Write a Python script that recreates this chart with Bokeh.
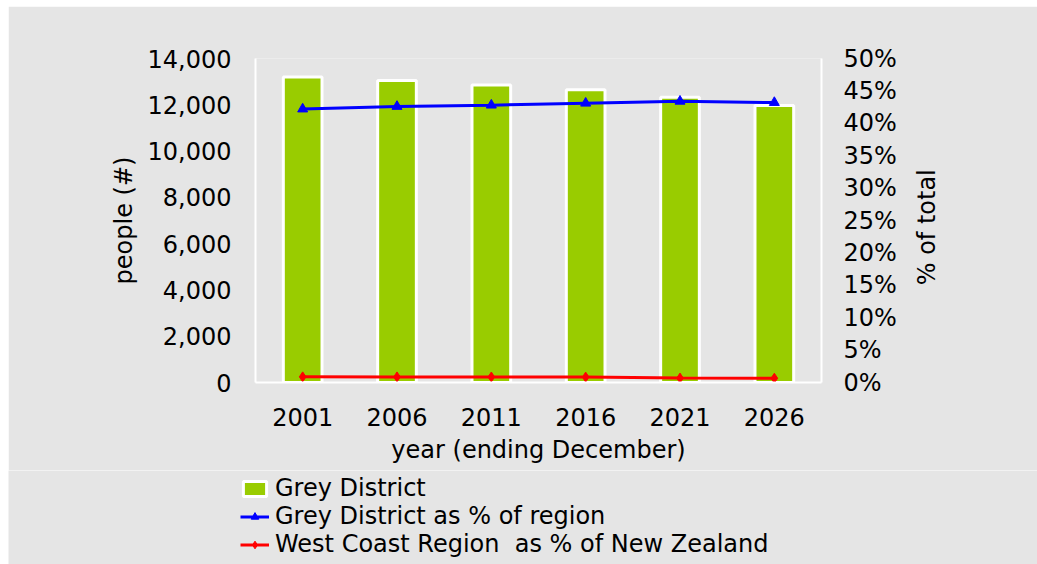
import math
from bokeh.plotting import figure
from bokeh.models import (FactorRange, Range1d, LinearAxis, SingleIntervalTicker, FixedTicker,
                          NumeralTickFormatter, PrintfTickFormatter, Legend, LegendItem,
                          ColumnDataSource)
from bokeh.layouts import column
from bokeh.embed import file_html
from bokeh.resources import INLINE

years = ["2001", "2006", "2011", "2016", "2021", "2026"]
grey_people = [13200, 13050, 12850, 12650, 12330, 11970]
grey_pct_region = [42.2, 42.6, 42.8, 43.1, 43.4, 43.2]
westcoast_pct_nz = [0.87, 0.86, 0.85, 0.83, 0.68, 0.66]

BG = "#E5E5E5"
FONT = "DejaVu Sans"
FS = "24px"

src = ColumnDataSource(dict(x=years, people=grey_people, pr=grey_pct_region, pn=westcoast_pct_nz))

p = figure(width=1029, height=464, x_range=FactorRange(*years), y_range=Range1d(0, 14000),
           output_backend="svg", toolbar_location=None,
           min_border_left=247, min_border_top=52, min_border_right=216, min_border_bottom=88)
p.margin = (6, 0, 0, 8)
p.extra_y_ranges = {"pct": Range1d(0, 50)}
p.background_fill_color = BG
p.border_fill_color = BG
p.outline_line_color = None
p.xgrid.visible = False
p.ygrid.visible = False


def draw(fig, pct_range=None):
    kw = {} if pct_range is None else {"y_range_name": pct_range}
    b = fig.vbar(x="x", top="people", width=0.41, source=src, fill_color="#99CC00",
                 line_color="white", line_width=3)
    l1 = fig.line(x="x", y="pr", source=src, color="#0000FF", line_width=3, **kw)
    m1 = fig.scatter(x="x", y="pr", source=src, marker="triangle", size=10,
                     color="#0000FF", **kw)
    l2 = fig.line(x="x", y="pn", source=src, color="#FF0000", line_width=3, **kw)
    m2 = fig.scatter(x="x", y="pn", source=src, marker="diamond", size=10,
                     color="#FF0000", **kw)
    return b, (l1, m1), (l2, m2)


draw(p, "pct")


def style(ax):
    ax.axis_line_color = "white"
    ax.axis_line_width = 2
    ax.major_tick_line_color = None
    ax.minor_tick_line_color = None
    ax.major_tick_out = 0
    ax.major_tick_in = 0
    ax.major_label_text_font = FONT
    ax.major_label_text_font_size = FS
    ax.major_label_text_color = "black"
    ax.axis_label_text_font = FONT
    ax.axis_label_text_font_size = FS
    ax.axis_label_text_font_style = "normal"
    ax.axis_label_text_color = "black"


yl = p.yaxis[0]
yl.ticker = SingleIntervalTicker(interval=2000)
yl.formatter = NumeralTickFormatter(format="0,0")
yl.axis_label = "people (#)"
style(yl)
yl.major_label_standoff = 20
yl.axis_label_standoff = 7

yr = LinearAxis(y_range_name="pct", ticker=SingleIntervalTicker(interval=5),
                formatter=PrintfTickFormatter(format="%d%%"))
style(yr)
yr.major_label_standoff = 18
p.add_layout(yr, "right")

# right-hand axis title, reading bottom-to-top as in the reference
yr2 = LinearAxis(y_range_name="pct", ticker=FixedTicker(ticks=[15]),
                 major_label_overrides={15: "% of total"},
                 major_label_orientation=math.pi / 2)
style(yr2)
yr2.axis_line_color = None
yr2.major_label_standoff = 28
p.add_layout(yr2, "right")

xb = p.xaxis[0]
xb.axis_label = "year (ending December)"
style(xb)
xb.major_label_standoff = 25
xb.axis_label_standoff = 7

# legend strip below the chart (its renderers are hidden, only legend glyphs show)
q = figure(width=1029, height=94, x_range=FactorRange(*years), y_range=Range1d(0, 14000),
           output_backend="svg", toolbar_location=None, x_axis_type=None, y_axis_type=None,
           min_border_left=0, min_border_right=0, min_border_top=0, min_border_bottom=0)
q.margin = (0, 0, 0, 8)
if "frame_align" in q.properties():
    q.frame_align = False
q.background_fill_color = BG
q.border_fill_color = BG
q.outline_line_color = None
q.xgrid.visible = False
q.ygrid.visible = False
qb, qr1, qr2 = draw(q)
for r in (qb,) + qr1 + qr2:
    r.visible = False

legend = Legend(items=[
    LegendItem(label="Grey District", renderers=[qb]),
    LegendItem(label="Grey District as % of region", renderers=list(qr1)),
    LegendItem(label="West Coast Region  as % of New Zealand", renderers=list(qr2)),
], location=(232, 6), orientation="vertical")
legend.background_fill_alpha = 0
legend.border_line_color = None
legend.padding = 0
legend.margin = 0
legend.spacing = 0
legend.glyph_width = 29
legend.glyph_height = 19
legend.label_text_font = FONT
legend.label_text_font_size = FS
legend.label_text_color = "black"
legend.label_standoff = 6
legend.label_height = 26
legend.inactive_fill_alpha = 0
q.add_layout(legend, "center")

layout = column(p, q, spacing=0)
open("out.html", "w").write(file_html(layout, INLINE))
